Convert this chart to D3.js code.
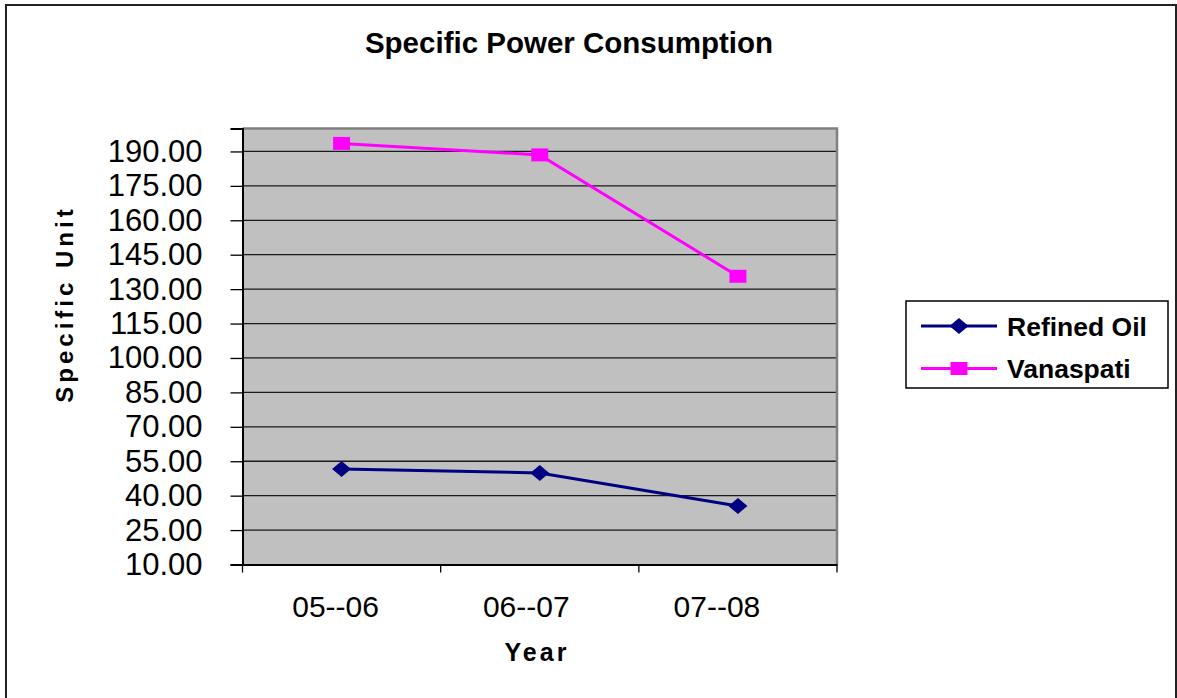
<!DOCTYPE html>
<html>
<head>
<meta charset="utf-8">
<script src="https://cdn.jsdelivr.net/npm/d3@7"></script>
<style>
  body { margin: 0; background: #fff; }
  svg { display: block; font-family: "Liberation Sans", Arial, sans-serif; }
</style>
</head>
<body>
<div id="chart"></div>
<script>
// Data
const years = ["05--06", "06--07", "07--08"];
const refinedOil = [51.6, 49.9, 35.5];
const vanaspati = [193.5, 188.5, 135.6];
const yTicks = [10, 25, 40, 55, 70, 85, 100, 115, 130, 145, 160, 175, 190];

const width = 1177;
const height = 698;
const plot = { left: 242.5, right: 837, top: 128.5, bottom: 564.5 };

const svg = d3.select("#chart").append("svg")
    .attr("width", width)
    .attr("height", height);

// outer frame
svg.append("rect")
    .attr("x", 6).attr("y", 5)
    .attr("width", 1170).attr("height", 710)
    .attr("fill", "#fff")
    .attr("stroke", "#222")
    .attr("stroke-width", 2);

const x = d3.scaleBand().domain(years).range([plot.left, plot.right]);
const y = d3.scaleLinear().domain([10, 200]).range([plot.bottom, plot.top]);

// plot area
svg.append("rect")
    .attr("x", plot.left).attr("y", plot.top)
    .attr("width", plot.right - plot.left)
    .attr("height", plot.bottom - plot.top)
    .attr("fill", "#c0c0c0");

// gridlines
svg.append("g").selectAll("line")
    .data(yTicks.slice(1))
    .enter().append("line")
    .attr("x1", plot.left).attr("x2", plot.right)
    .attr("y1", d => y(d)).attr("y2", d => y(d))
    .attr("stroke", "#1a1a1a")
    .attr("stroke-width", 1.3);

// top and right border
svg.append("path")
    .attr("d", `M${plot.left},${plot.top}H${plot.right}V${plot.bottom}`)
    .attr("fill", "none")
    .attr("stroke", "#808080")
    .attr("stroke-width", 2.5);

// y axis
const yAxis = svg.append("g")
    .attr("transform", `translate(${plot.left},0)`)
    .call(d3.axisLeft(y).tickValues(yTicks).tickSize(12).tickPadding(28)
        .tickFormat(d3.format(".2f")));
yAxis.select(".domain").attr("stroke", "#000").attr("stroke-width", 2);
yAxis.selectAll(".tick line").attr("stroke", "#000").attr("stroke-width", 1.3);
yAxis.selectAll("text")
    .attr("font-size", 31)
    .attr("fill", "#000")
    .attr("font-family", "Liberation Sans, Arial, sans-serif");

// x axis
const xAxis = svg.append("g")
    .attr("transform", `translate(0,${plot.bottom})`)
    .call(d3.axisBottom(x).tickSize(0).tickPadding(0));
xAxis.select(".domain").attr("stroke", "#000").attr("stroke-width", 2);
xAxis.selectAll("text")
    .attr("font-size", 30)
    .attr("fill", "#000")
    .attr("font-family", "Liberation Sans, Arial, sans-serif")
    .attr("y", 52)
    .attr("dy", 0)
    .attr("dx", (d, i) => -6 - 7.5 * i);

// x tick marks at category boundaries
const boundaries = years.map(d => x(d)).concat([x(years[years.length - 1]) + x.bandwidth()]);
svg.append("g").selectAll("line")
    .data(boundaries)
    .enter().append("line")
    .attr("x1", d => d).attr("x2", d => d)
    .attr("y1", plot.bottom).attr("y2", plot.bottom + 8)
    .attr("stroke", "#000")
    .attr("stroke-width", 1.3);

const cx = d => x(d) + x.bandwidth() / 2;

// series
const line = d3.line()
    .x((d, i) => cx(years[i]))
    .y(d => y(d));

svg.append("path")
    .datum(vanaspati)
    .attr("d", line)
    .attr("fill", "none")
    .attr("stroke", "#ff00ff")
    .attr("stroke-width", 3);

svg.append("path")
    .datum(refinedOil)
    .attr("d", line)
    .attr("fill", "none")
    .attr("stroke", "#000080")
    .attr("stroke-width", 3);

const diamond = "M0,-8L9.5,0L0,8L-9.5,0Z";

svg.append("g").selectAll("path")
    .data(refinedOil)
    .enter().append("path")
    .attr("d", diamond)
    .attr("transform", (d, i) => `translate(${cx(years[i])},${y(d)})`)
    .attr("fill", "#000080");

svg.append("g").selectAll("rect")
    .data(vanaspati)
    .enter().append("rect")
    .attr("x", (d, i) => cx(years[i]) - 8.5)
    .attr("y", d => y(d) - 6.5)
    .attr("width", 17).attr("height", 13)
    .attr("fill", "#ff00ff");

// title
svg.append("text")
    .attr("x", 569).attr("y", 53)
    .attr("text-anchor", "middle")
    .attr("font-size", 29.5)
    .attr("font-weight", "bold")
    .text("Specific Power Consumption");

// axis titles
svg.append("text")
    .attr("x", 537).attr("y", 661)
    .attr("text-anchor", "middle")
    .attr("font-size", 25)
    .attr("font-weight", "bold")
    .attr("letter-spacing", 3)
    .text("Year");

svg.append("text")
    .attr("transform", "translate(73,304) rotate(-90)")
    .attr("text-anchor", "middle")
    .attr("font-size", 24)
    .attr("font-weight", "bold")
    .attr("letter-spacing", 4)
    .text("Specific Unit");

// legend
const legend = svg.append("g");
legend.append("rect")
    .attr("x", 906).attr("y", 301)
    .attr("width", 262).attr("height", 87)
    .attr("fill", "#fff")
    .attr("stroke", "#000")
    .attr("stroke-width", 1.5);

const legendItems = [
    { name: "Refined Oil", color: "#000080", marker: "diamond" },
    { name: "Vanaspati", color: "#ff00ff", marker: "square" }
];

const item = legend.selectAll("g.item")
    .data(legendItems)
    .enter().append("g")
    .attr("class", "item")
    .attr("transform", (d, i) => `translate(921,${326 + i * 42.5})`);

item.append("line")
    .attr("x1", 0).attr("x2", 76)
    .attr("stroke", d => d.color)
    .attr("stroke-width", 3);

item.filter(d => d.marker === "diamond").append("path")
    .attr("d", diamond)
    .attr("transform", "translate(38,0)")
    .attr("fill", d => d.color);

item.filter(d => d.marker === "square").append("rect")
    .attr("x", 29.5).attr("y", -6.5)
    .attr("width", 17).attr("height", 13)
    .attr("fill", d => d.color);

item.append("text")
    .attr("x", 86).attr("y", 9.5)
    .attr("font-size", 26.5)
    .attr("font-weight", "bold")
    .text(d => d.name);
</script>
</body>
</html>
